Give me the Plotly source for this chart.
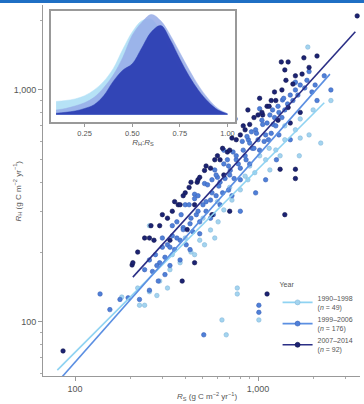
import plotly.graph_objects as go

# ---------------- data ----------------
years = ["1990–1998", "1999–2006", "2007–2014"]
counts = [49, 176, 92]

# 1990–1998 (light)
rs_9098 = [2200, 1680, 1870, 1590, 1600, 1400, 1250, 1100, 1160, 960, 880, 800, 720, 650,
           605, 550, 480, 430, 375, 330, 290, 255, 225, 770, 1010, 635, 670, 180, 240, 320,
           770, 450, 255, 850, 1020, 1700, 1900, 1320, 510, 580,
           1400, 1150, 900, 700, 600, 500, 400, 340, 2000, 2500, 1700, 280, 220]
rh_9098 = [590, 520, 1530, 1070, 673, 610, 551, 500, 452, 440, 410, 371, 335, 304,
           270, 249, 225, 200, 180, 168, 150, 135, 118, 132, 102, 102, 88, 128, 118, 140,
           140, 195, 260, 425, 520, 750, 640, 520, 215, 230,
           700, 560, 470, 380, 330, 280, 230, 195, 820, 900, 620, 130, 140]

# 1999–2006 (medium)
rs_9906 = [240, 255, 275, 290, 300, 320, 340, 350, 375, 390, 405, 425, 440, 460, 480, 500,
           520, 550, 570, 590, 610, 640, 660, 690, 705, 740, 760, 800, 830, 860, 885, 930,
           970, 1000, 1060, 1100, 1160, 1210, 1285, 1300, 1360, 1400, 1500, 1600, 1700, 1850,
           1970, 1300, 1140, 1020, 900, 800, 720, 620, 550, 480, 425, 375, 330, 310, 285, 255,
           225, 195, 176, 155, 137, 1010, 1010, 505, 1020, 750, 650, 580, 510, 450, 400, 1260,
           1100, 970, 1500, 800,
           620, 700, 780, 850, 950, 1080, 1180, 1250, 1350, 1450, 1550, 1650, 1800, 2050, 2300,
           560, 520, 470, 430, 390, 360, 330, 310, 280, 265, 900, 980, 1120, 1230, 760, 690,
           600, 2100, 1900, 2500,
           300, 340, 380, 420, 470, 530, 590, 650, 730, 820, 920, 1050, 1200, 1380, 1600,
           360, 450, 560, 680, 870]
rh_9906 = [168, 185, 195, 180, 210, 215, 235, 205, 225, 255, 215, 265, 245, 290, 270, 320,
           300, 335, 290, 350, 385, 360, 415, 370, 450, 415, 500, 460, 550, 500, 610, 560,
           673, 610, 710, 640, 780, 710, 850, 800, 905, 820, 950, 1000, 1050, 1100,
           980, 640, 610, 550, 480, 410, 350, 320, 280, 240, 205, 185, 175, 160, 150, 137,
           125, 127, 125, 113, 132, 118, 110, 88, 830, 750, 550, 452, 395, 355, 320, 500,
           410, 360, 610, 300,
           400, 430, 480, 520, 560, 600, 650, 700, 760, 870, 900, 950, 1020, 1050, 1150,
           360, 330, 300, 280, 250, 230, 210, 190, 175, 165, 590, 650, 720, 760, 520, 470,
           420, 900, 1200, 1000,
           230, 260, 290, 320, 350, 390, 430, 480, 540, 600, 660, 740, 820, 920, 1080,
           270, 340, 410, 500, 630]

# 2007–2014 (dark)
rs_0714 = [3480, 1340, 1460, 1400, 1780, 1740, 1420, 1180, 1230, 1120, 1000, 1700, 1460,
           1285, 1500, 1060, 900, 850, 800, 760, 680, 700, 620, 580, 550, 510, 465, 470, 420,
           400, 366, 375, 340, 320, 290, 270, 255, 330, 410, 450, 205, 207, 1600, 1320, 1600,
           1400, 1120, 385, 450, 560, 700, 650, 880, 1020, 86,
           1550, 1350, 1250, 1150, 1050, 950, 830, 720, 640, 600, 520, 480, 430, 390, 350,
           300, 260, 240, 220, 1900, 2100, 1600]
rh_0714 = [2085, 1320, 1320, 1220, 1375, 1170, 1100, 900, 980, 850, 780, 800, 840,
           740, 720, 780, 710, 673, 640, 610, 540, 550, 500, 500, 460, 450, 400, 410, 380,
           360, 320, 320, 300, 280, 260, 225, 230, 225, 250, 320, 176, 180, 455, 455, 415,
           290, 132, 150, 180, 290, 300, 430, 820, 920, 75,
           1060, 1000, 900, 850, 800, 760, 700, 620, 560, 520, 470, 420, 400, 350, 330,
           290, 260, 230, 200, 1250, 1400, 1150]

# fitted lines (end points)
fit_x = {"1990–1998": [80, 2300], "1999–2006": [85, 2470], "2007–2014": [207, 3400]}
fit_y = {"1990–1998": [62, 880], "1999–2006": [58, 1170], "2007–2014": [156, 1780]}

# inset: density of RH:RS
ratio = [0.10, 0.15, 0.20, 0.25, 0.30, 0.35, 0.40, 0.45, 0.50, 0.55, 0.60, 0.65, 0.70,
         0.75, 0.80, 0.85, 0.90, 0.95, 1.00]
dens_9098 = [0.42, 0.45, 0.50, 0.60, 0.78, 1.05, 1.45, 2.05, 2.60, 2.95, 3.00, 2.60, 2.00,
             1.45, 0.95, 0.55, 0.30, 0.12, 0.03]
dens_9906 = [0.15, 0.20, 0.28, 0.38, 0.55, 0.85, 1.25, 1.80, 2.50, 2.90, 3.15, 2.95, 2.50,
             1.95, 1.40, 0.90, 0.50, 0.20, 0.04]
dens_0714 = [0.05, 0.08, 0.12, 0.20, 0.32, 0.60, 1.05, 1.40, 1.60, 2.10, 2.60, 2.80, 2.35,
             1.75, 1.20, 0.75, 0.40, 0.15, 0.03]

main_xticks = [100, 1000]
main_yticks = [100, 1000]
tick_text = ["100", "1,000"]
inset_ticks = [0.25, 0.50, 0.75, 1.00]
inset_tick_text = ["0.25", "0.50", "0.75", "1.00"]

# ---------------- styles ----------------
pt_col = {"1990–1998": "#a3d4ef", "1999–2006": "#4f80d8", "2007–2014": "#1c2373"}
pt_edge = {"1990–1998": "#86b9dc", "1999–2006": "#3a62b8", "2007–2014": "#10164f"}
ln_col = {"1990–1998": "#8fd3f2", "1999–2006": "#5b8fe2", "2007–2014": "#2b2f86"}
fill_col = {"1990–1998": "rgba(178,224,246,0.95)", "1999–2006": "rgba(150,172,232,0.85)",
            "2007–2014": "rgba(42,60,178,0.93)"}
FONT = "Liberation Sans, Arial, sans-serif"
GREY = "#555"

fig = go.Figure()

pts = {"1990–1998": (rs_9098, rh_9098), "1999–2006": (rs_9906, rh_9906),
       "2007–2014": (rs_0714, rh_0714)}
for yr in years:
    xs, ys = pts[yr]
    fig.add_trace(go.Scatter(x=xs, y=ys, mode="markers", showlegend=False,
                             marker=dict(size=4.5, color=pt_col[yr],
                                         line=dict(color=pt_edge[yr], width=0.6)),
                             xaxis="x", yaxis="y"))
for yr in years:
    fig.add_trace(go.Scatter(x=fit_x[yr], y=fit_y[yr], mode="lines", showlegend=False,
                             line=dict(color=ln_col[yr], width=1.6), xaxis="x", yaxis="y"))
# legend proxies
for yr, n in zip(years, counts):
    fig.add_trace(go.Scatter(x=[None], y=[None], mode="lines+markers",
                             name=f"{yr}<br>(<i>n</i> = {n})",
                             marker=dict(size=5, color=pt_col[yr],
                                         line=dict(color=pt_edge[yr], width=0.6)),
                             line=dict(color=ln_col[yr], width=1.6), xaxis="x", yaxis="y"))

# inset densities
dens = {"1990–1998": dens_9098, "1999–2006": dens_9906, "2007–2014": dens_0714}
for yr in years:
    fig.add_trace(go.Scatter(x=ratio, y=dens[yr], mode="lines", fill="tozeroy",
                             fillcolor=fill_col[yr],
                             line=dict(color=fill_col[yr], width=0.5, shape="spline"),
                             showlegend=False, xaxis="x2", yaxis="y2"))

fig.update_layout(
    width=364, height=404,
    margin=dict(l=43, r=4, t=5, b=28, autoexpand=False),
    paper_bgcolor="white", plot_bgcolor="white",
    font=dict(family=FONT, size=9, color=GREY),
    xaxis=dict(type="log", range=[1.825, 3.557], showgrid=False, zeroline=False,
               showline=True, linecolor="#999", linewidth=1, automargin=False,
               ticks="outside", ticklen=4, tickcolor="#999",
               tickvals=main_xticks, ticktext=tick_text, tickfont=dict(size=9),
               minor=dict(ticks="outside", ticklen=2, tickcolor="#aaa",
                          tickvals=[200, 300, 400, 500, 600, 700, 800, 900, 2000, 3000])),
    yaxis=dict(type="log", range=[1.767, 3.366], showgrid=False, zeroline=False,
               showline=True, linecolor="#999", linewidth=1, automargin=False,
               ticks="outside", ticklen=4, tickcolor="#999",
               tickvals=main_yticks, ticktext=tick_text, tickfont=dict(size=9),
               minor=dict(ticks="outside", ticklen=2, tickcolor="#aaa",
                          tickvals=[60, 70, 80, 90, 200, 300, 400, 500, 600, 700, 800, 900, 2000])),
    xaxis2=dict(domain=[0.025, 0.606], anchor="y2", range=[0.073, 1.04],
                showgrid=False, zeroline=False, showline=True, mirror=True,
                linecolor="#999", linewidth=1.5, ticks="outside", ticklen=3, tickcolor="#999",
                tickvals=inset_ticks, ticktext=inset_tick_text, tickfont=dict(size=7.5),
                title=dict(text="<i>R</i><sub>H</sub>:<i>R</i><sub>S</sub>",
                           font=dict(size=8, color=GREY), standoff=1)),
    yaxis2=dict(domain=[0.685, 0.984], anchor="x2", range=[-0.22, 3.26],
                showgrid=False, zeroline=False, showline=True, mirror=True,
                linecolor="#999", linewidth=1.5, showticklabels=False, ticks=""),
    legend=dict(x=0.74, y=0.265, xanchor="left", yanchor="top",
                bgcolor="rgba(0,0,0,0)", font=dict(size=7, color=GREY),
                title=dict(text="Year", font=dict(size=7, color=GREY)),
                itemwidth=30, tracegroupgap=2),
    annotations=[
        dict(text="<i>R</i><sub>S</sub> (g C m<sup>−2</sup> yr<sup>−1</sup>)",
             xref="paper", yref="paper", x=0.517, y=-0.054, xanchor="center",
             yanchor="middle", showarrow=False, font=dict(size=8, color=GREY)),
        dict(text="<i>R</i><sub>H</sub> (g C m<sup>−2</sup> yr<sup>−1</sup>)",
             xref="paper", yref="paper", x=-0.079, y=0.5, xanchor="center",
             yanchor="middle", textangle=-90, showarrow=False,
             font=dict(size=8, color=GREY)),
    ],
    shapes=[dict(type="rect", xref="paper", yref="paper", x0=-0.2, x1=1.1,
                 y0=1.0 + 2 / 371, y1=1.0 + 5 / 371, fillcolor="#1f6fc4",
                 line=dict(width=0), layer="above")],
)

fig.write_html("out.html", config={"displayModeBar": False},
               post_script="document.body.style.margin='0';document.body.style.overflow='hidden';")
